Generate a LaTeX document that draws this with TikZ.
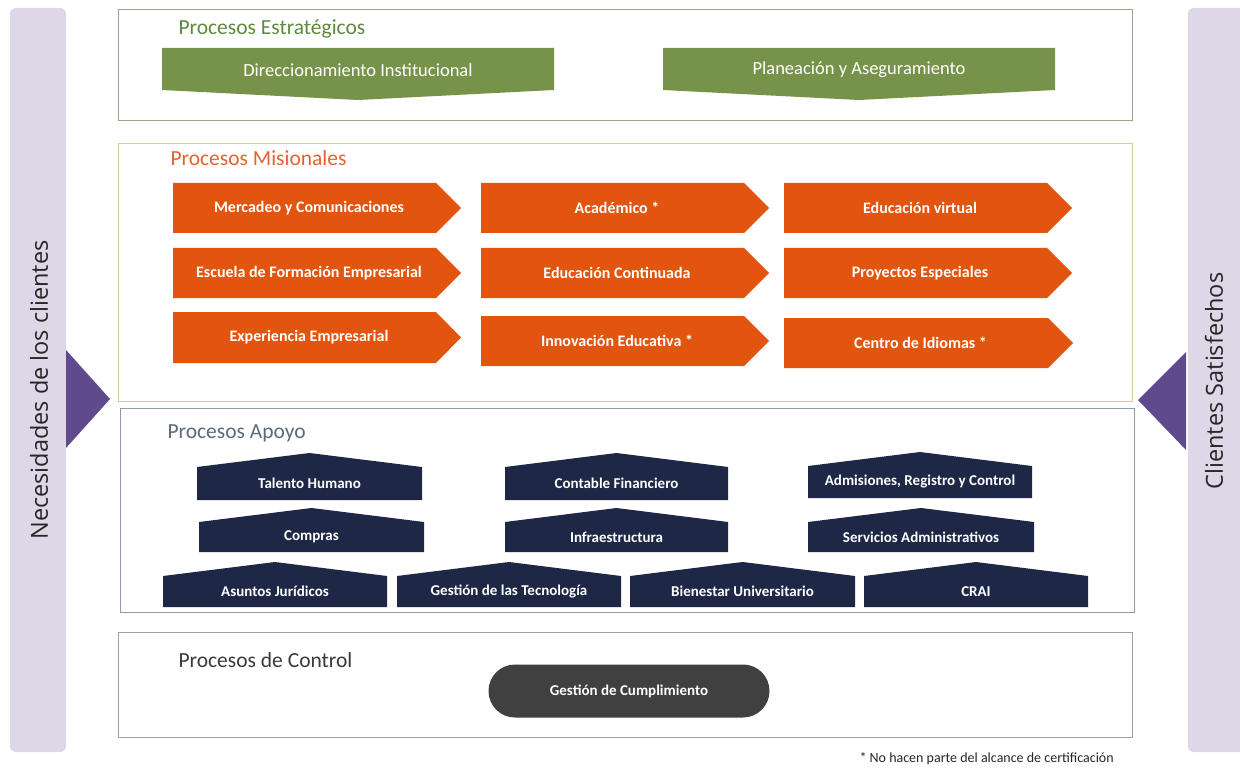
\documentclass[tikz,border=0pt]{standalone}
\usepackage{fontspec}
\setmainfont{Carlito}
\newfontfamily\sidefont{Open Sans}
\usetikzlibrary{shapes.misc}
\definecolor{sidebg}{HTML}{DDD7E8}
\definecolor{tri}{HTML}{5E4A8C}
\definecolor{grn}{HTML}{77934A}
\definecolor{grntitle}{HTML}{5E8A3E}
\definecolor{stratborder}{HTML}{A2A288}
\definecolor{orng}{HTML}{E2550F}
\definecolor{orngtitle}{HTML}{E4622F}
\definecolor{misborder}{HTML}{D8C9A0}
\definecolor{apoborder}{HTML}{8A9BAD}
\definecolor{apotitle}{HTML}{5C6B7B}
\definecolor{navy}{HTML}{1E2846}
\definecolor{ctrlborder}{HTML}{A0A0A0}
\definecolor{ctrltitle}{HTML}{3A3A3A}
\definecolor{gest}{HTML}{404040}
\tikzset{
  frame/.style={line width=0.9pt},
  title/.style={anchor=west,font=\fontsize{21.5}{24}\selectfont},
  gtext/.style={text=white,font=\fontsize{18.5}{20}\selectfont},
  otext/.style={text=white,font=\bfseries\fontsize{16}{18}\selectfont},
  ntext/.style={text=white,font=\bfseries\fontsize{15}{17}\selectfont},
  sidetext/.style={rotate=90,font=\sidefont\fontsize{23.5}{26}\selectfont,text=black!85},
}
% orange right-pointing arrow: name, x1, y1, xtip, y2, text
\newcommand\misarrow[6]{%
  \fill[orng] (#2,#3) -- (#4-25,#3) -- (#4,{(#3+#5)/2}) -- (#4-25,#5) -- (#2,#5) -- cycle;
  \node[otext] (#1) at ({(#2+#4-16)/2},{(#3+#5)/2}) {#6};
}
% navy house shape: name, x1, ytop(peak), x2, ybottom, text
\newcommand\apohouse[6]{%
  \fill[navy] (#2,#5) -- (#2,#3+14) -- ({(#2+#4)/2},#3) -- (#4,#3+14) -- (#4,#5) -- cycle;
  \node[ntext] (#1) at ({(#2+#4)/2},{(#3+14+#5)/2}) {#6};
}
% green banner pointing down: name, x1, x2, text
\newcommand\strbanner[4]{%
  \fill[grn] (#2,48) -- (#3,48) -- (#3,90) -- ({(#2+#3)/2},100) -- (#2,90) -- cycle;
  \node[gtext] (#1) at ({(#2+#3)/2},70) {#4};
}
\begin{document}
\begin{tikzpicture}[x=1pt,y=-1pt]
\useasboundingbox (0,0) rectangle (1240,770);
\fill[white] (0,0) rectangle (1240,770);

% side bars
\fill[sidebg,rounded corners=6pt] (10,8) rectangle (66,752);
\fill[sidebg,rounded corners=6pt] (1188,8) rectangle (1250,752);
\node[sidetext] (need) at (39,390) {Necesidades de los clientes};
\node[sidetext] (sat) at (1214,381) {Clientes Satisfechos};
\fill[tri] (66,350) -- (110,399) -- (66,448) -- cycle;
\fill[tri] (1186,352) -- (1138,400) -- (1186,450) -- cycle;

% Estrategicos
\draw[frame,stratborder] (118,9) rectangle (1132,120);
\node[title,text=grntitle] (tstrat) at (175,29) {Procesos Estratégicos};
\strbanner{dir}{162}{554}{Direccionamiento Institucional}
\strbanner{plan}{663}{1055}{Planeación y Aseguramiento}

% Misionales
\draw[frame,misborder] (118,143) rectangle (1132,401);
\node[title,text=orngtitle] (tmis) at (167,158) {Procesos Misionales};
\misarrow{merc}{173}{183}{461}{233}{Mercadeo y Comunicaciones}
\misarrow{esc}{173}{248}{461}{298}{Escuela de Formación Empresarial}
\misarrow{exp}{173}{312}{461}{363}{Experiencia Empresarial}
\misarrow{acad}{481}{183}{769}{233}{Académico *}
\misarrow{cont}{481}{248}{769}{298}{Educación Continuada}
\misarrow{innov}{481}{316}{769}{366}{Innovación Educativa *}
\misarrow{virt}{784}{183}{1072}{233}{Educación virtual}
\misarrow{proy}{784}{248}{1072}{298}{Proyectos Especiales}
\misarrow{idio}{784}{318}{1073}{368}{Centro de Idiomas *}

% Apoyo
\draw[frame,apoborder] (120,408) rectangle (1134,612);
\node[title,text=apotitle] (tapo) at (164,433) {Procesos Apoyo};
\apohouse{tal}{197}{453}{422}{500}{Talento Humano}
\apohouse{contab}{505}{453}{728}{500}{Contable Financiero}
\apohouse{adm}{808}{452}{1032}{498}{Admisiones, Registro y Control}
\apohouse{comp}{199}{508}{424}{552}{Compras}
\apohouse{infra}{505}{508}{728}{552}{Infraestructura}
\apohouse{serv}{808}{508}{1034}{552}{Servicios Administrativos}
\apohouse{jur}{163}{562}{387}{607}{Asuntos Jurídicos}
\apohouse{tec}{397}{562}{621}{607}{Gestión de las Tecnología}
\apohouse{bien}{630}{562}{855}{607}{Bienestar Universitario}
\apohouse{crai}{864}{562}{1088}{607}{CRAI}

% Control
\draw[frame,ctrlborder] (118,632) rectangle (1132,737);
\node[title,text=ctrltitle] (tctrl) at (175,660) {Procesos de Control};
\node[rounded rectangle,fill=gest,minimum width=281pt,minimum height=53pt,inner sep=0pt,
      text=white,font=\bfseries\fontsize{15}{17}\selectfont] (gc) at (629,691) {Gestión de Cumplimiento};

% footnote
\node[anchor=west,font=\fontsize{14}{16}\selectfont,text=black!85] (nota) at (856,759) {* No hacen parte del alcance de certificación};
\end{tikzpicture}
\end{document}
